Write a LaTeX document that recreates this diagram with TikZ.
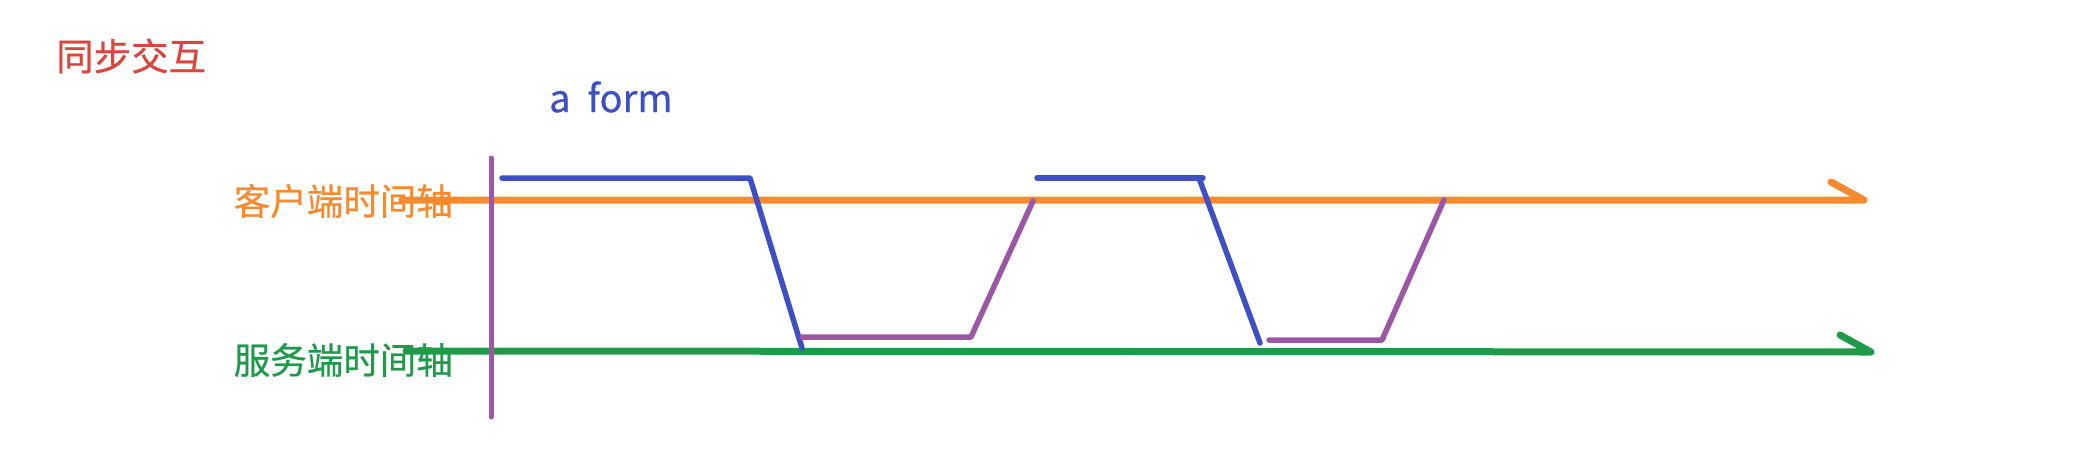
\documentclass[tikz,border=0pt]{standalone}
\usepackage{fontspec}
\newfontfamily\cjk[FakeBold=0.6]{Noto Sans CJK SC}
\definecolor{tred}{HTML}{D9453F}
\definecolor{torange}{HTML}{F58A2E}
\definecolor{tgreen}{HTML}{1E9A4A}
\definecolor{tblue}{HTML}{3D4FC2}
\definecolor{tpurple}{HTML}{9B57A6}
\tikzset{
  lbl/.style={font=\cjk\fontsize{36.5}{40}\selectfont, inner sep=0pt},
  axis/.style={line width=7pt, line cap=round, line join=round},
  stroke/.style={line width=5.5pt, line cap=round, line join=round},
}
\begin{document}
\begin{tikzpicture}[x=1pt,y=-1pt]
\useasboundingbox (0,0) rectangle (2098,472);
% texts
\node[lbl, text=tred, anchor=west, font=\cjk\fontsize{37.5}{42}\selectfont] (title) at (56,56) {同步交互};
\node[lbl, text=tblue, anchor=west, font=\cjk\fontsize{38}{42}\selectfont] (form) at (549,97) {a\ \ form};
\node[lbl, text=torange, anchor=east] (client) at (453,201) {客户端时间轴};
\node[lbl, text=tgreen, anchor=east] (server) at (453,360) {服务端时间轴};
% axes
\coordinate (cs) at (402,200);
\coordinate (ce) at (1864,200);
\coordinate (cb) at (1831,182);
\coordinate (ss) at (406,351);
\coordinate (se) at (1871,352);
\coordinate (sb) at (1840,335);
\draw[axis, torange] (cs) -- (ce) -- (cb);
\draw[axis, tgreen] (ss) -- (se) -- (sb);
% vertical purple line
\coordinate (vt) at (491,158);
\coordinate (vb) at (491,417);
\draw[stroke, tpurple, line width=5pt] (vt) -- (vb);
% first exchange
\coordinate (b1a) at (502,178);
\coordinate (b1b) at (750,178);
\coordinate (b1c) at (802,348);
\draw[stroke, tblue] (b1a) -- (b1b) -- (b1c);
\coordinate (p1a) at (802,337);
\coordinate (p1b) at (971,337);
\coordinate (p1c) at (1033,201);
\draw[stroke, tpurple] (p1a) -- (p1b) -- (p1c);
% second exchange
\coordinate (b2a) at (1037,178);
\coordinate (b2b) at (1203,178);
\coordinate (b2k) at (1199,178);
\coordinate (b2c) at (1260,343);
\draw[stroke, tblue] (b2a) -- (b2b);
\draw[stroke, tblue] (b2k) -- (b2c);
\coordinate (p2a) at (1269,340);
\coordinate (p2b) at (1382,340);
\coordinate (p2c) at (1444,200);
\draw[stroke, tpurple] (p2a) -- (p2b) -- (p2c);
\end{tikzpicture}
\end{document}
